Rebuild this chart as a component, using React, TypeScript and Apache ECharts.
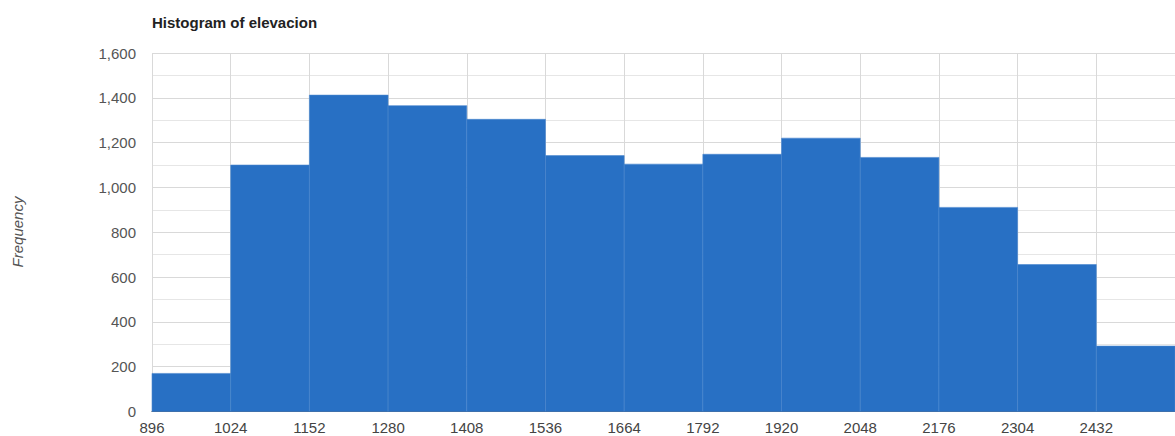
import React, { useEffect, useRef } from "react";
import * as echarts from "echarts";

const binStarts = [896, 1024, 1152, 1280, 1408, 1536, 1664, 1792, 1920, 2048, 2176, 2304, 2432];
const binWidth = 128;
const frequencies = [170, 1100, 1412, 1365, 1304, 1142, 1104, 1148, 1220, 1134, 911, 656, 292];
const yTicks = [0, 200, 400, 600, 800, 1000, 1200, 1400, 1600];
const xTicks = [896, 1024, 1152, 1280, 1408, 1536, 1664, 1792, 1920, 2048, 2176, 2304, 2432];

const FONT = "Liberation Sans, Arial, sans-serif";

export default function App() {
  const ref = useRef<HTMLDivElement>(null);
  useEffect(() => {
    if (!ref.current) return;
    const chart = echarts.init(ref.current, null, { renderer: "svg" });
    const data = binStarts.map((s, i) => [s, s + binWidth, frequencies[i]]);
    chart.setOption({
      animation: false,
      backgroundColor: "#ffffff",
      title: {
        text: "Histogram of elevacion",
        left: 147,
        top: 10,
        textStyle: { fontFamily: FONT, fontSize: 15, fontWeight: "bold", color: "#222222" },
      },
      graphic: [
        {
          type: "text",
          x: 17,
          y: 232,
          rotation: Math.PI / 2,
          style: {
            text: "Frequency",
            fontFamily: FONT,
            fontSize: 15,
            fontStyle: "italic",
            fill: "#555555",
            align: "center",
            verticalAlign: "middle",
          },
        },
      ],
      grid: { left: 152, top: 53, bottom: 24.5, right: -3 },
      xAxis: {
        type: "value",
        min: xTicks[0],
        max: binStarts[binStarts.length - 1] + binWidth,
        interval: binWidth,
        axisLine: { show: true, onZero: false, lineStyle: { color: "#333333", width: 1 } },
        axisTick: { show: false },
        axisLabel: {
          showMaxLabel: false,
          margin: 8,
          fontFamily: FONT,
          fontSize: 15,
          color: "#444444",
          formatter: (v: number) => String(v),
        },
        splitLine: { show: true, lineStyle: { color: "#d9d9d9", width: 1 } },
      },
      yAxis: {
        type: "value",
        min: yTicks[0],
        max: yTicks[yTicks.length - 1],
        interval: 200,
        axisLine: { show: false },
        axisTick: { show: false },
        axisLabel: {
          margin: 16,
          fontFamily: FONT,
          fontSize: 15,
          color: "#555555",
          formatter: (v: number) => v.toLocaleString("en-US"),
        },
        splitLine: { show: true, lineStyle: { color: "#d9d9d9", width: 1 } },
        minorTick: { show: false, splitNumber: 2 },
        minorSplitLine: { show: true, lineStyle: { color: "#e6e6e6", width: 1 } },
      },
      series: [
        {
          type: "custom",
          data,
          encode: { x: [0, 1], y: 2 },
          renderItem: (params: any, api: any) => {
            const x0 = api.value(0);
            const x1 = api.value(1);
            const v = api.value(2);
            const p0 = api.coord([x0, v]);
            const p1 = api.coord([x1, 0]);
            return {
              type: "rect",
              shape: { x: p0[0], y: p0[1], width: p1[0] - p0[0], height: p1[1] - p0[1] },
              style: { fill: "#2870c4", stroke: "#4a86cf", lineWidth: 0.6 },
            };
          },
          z: 3,
        },
      ],
    });
    return () => chart.dispose();
  }, []);
  return (
    <div
      ref={ref}
      style={{ position: "fixed", left: 0, top: 0, width: 1175, height: 436 }}
    />
  );
}
